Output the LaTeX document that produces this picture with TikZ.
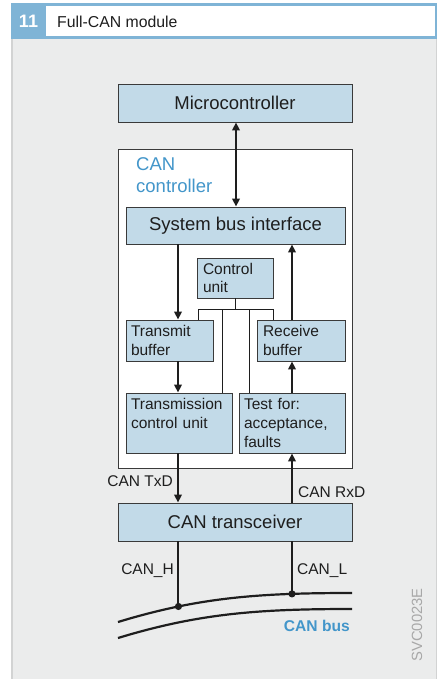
\documentclass[tikz,border=0pt]{standalone}
\usepackage{fontspec}
\setmainfont{Liberation Sans}
\usetikzlibrary{arrows.meta}
\definecolor{panel}{HTML}{EBECEC}
\definecolor{panelline}{HTML}{D2D3D3}
\definecolor{hdrblue}{HTML}{7FB4D6}
\definecolor{boxfill}{HTML}{C2DAE8}
\definecolor{boxline}{HTML}{3A3A3A}
\definecolor{txtblue}{HTML}{4396CA}
\definecolor{ink}{HTML}{1E1E1E}
\definecolor{codegrey}{HTML}{A8A8A8}
\tikzset{
  bigfont/.style={font=\fontsize{18.5}{22}\selectfont},
  medfont/.style={font=\fontsize{15.5}{18.7}\selectfont},
  blk/.style={draw=boxline, fill=boxfill, line width=0.9pt, inner sep=0pt, text=ink},
  flow/.style={draw=ink, line width=1.9pt, -{Triangle[length=8pt,width=7.5pt]}},
  biflow/.style={draw=ink, line width=1.9pt, {Triangle[length=8pt,width=7.5pt]}-{Triangle[length=8pt,width=7.5pt]}},
  wire/.style={draw=ink, line width=1.9pt},
  thinwire/.style={draw=ink, line width=0.9pt},
  buswire/.style={draw=ink, line width=2.2pt},
  lbl/.style={medfont, text=ink, inner sep=0pt}
}
\begin{document}
\begin{tikzpicture}[x=1pt,y=-1pt]
\useasboundingbox (0,0) rectangle (437,679);
% panel and header
\fill[panel] (11,39) rectangle (437,679);
\draw[panelline, line width=1.6pt] (11.8,39) -- (11.8,679);
\draw[panelline, line width=1.2pt] (436.3,39) -- (436.3,679);
\fill[hdrblue] (11,3) rectangle (437,39);
\fill[white] (46,5.6) rectangle (434.6,36.4);
\node[font=\fontsize{18}{20}\selectfont\bfseries, text=white, inner sep=0pt] (num) at (28.5,21.5) {11};
\node[font=\fontsize{15.8}{18}\selectfont, text=ink, anchor=west, inner sep=0pt] (title) at (57,21.5) {Full-CAN module};

% blocks
\node[blk, bigfont, minimum width=234pt, minimum height=38pt] (micro) at (235,103) {Microcontroller};
\node[draw=boxline, fill=white, line width=0.9pt, minimum width=234pt, minimum height=319pt, inner sep=0pt] (canctl) at (235,308.5) {};
\node[bigfont, text=txtblue, align=left, anchor=west, inner sep=0pt] (canlbl) at (136,175) {CAN\\controller};
\node[blk, bigfont, minimum width=219pt, minimum height=37pt] (sbi) at (235.5,225.5) {System bus interface};
\node[blk, medfont, minimum width=76pt, minimum height=40pt, text width=64pt, align=left] (ctrl) at (235,278) {Control\\unit};
\node[blk, medfont, minimum width=87pt, minimum height=41pt, text width=77pt, align=left] (txb) at (169.5,340.5) {Transmit\\buffer};
\node[blk, medfont, minimum width=88pt, minimum height=41pt, text width=76pt, align=left] (rxb) at (301,340.5) {Receive\\buffer};
\node[blk, medfont, minimum width=106pt, minimum height=60pt, text width=96pt, align=left] (tcu) at (179,423) {Transmission\\control unit\\\mbox{}};
\node[blk, medfont, minimum width=106pt, minimum height=60pt, text width=96pt, align=left] (test) at (292,423) {\raisebox{-2pt}{Test for:}\\\raisebox{-2pt}{acceptance,}\\\raisebox{-2pt}{faults}};
\node[blk, bigfont, minimum width=234pt, minimum height=38pt] (xcvr) at (235,522) {CAN transceiver};

% columns
\coordinate (c1) at (178,0);
\coordinate (c2) at (292,0);
\coordinate (b1) at (198,0);
\coordinate (b2) at (222,0);
\coordinate (b3) at (249,0);
\coordinate (b4) at (273,0);
\coordinate (bar) at (235,309);

% arrows
\draw[biflow] (micro.south -| 236,0) -- (sbi.north -| 236,0);
\draw[flow] (sbi.south -| c1) -- (txb.north -| c1);
\draw[flow] (txb.south -| c1) -- (tcu.north -| c1);
\draw[flow] (tcu.south -| c1) -- (xcvr.north -| c1);
\draw[flow] (xcvr.north -| c2) -- (test.south -| c2);
\draw[flow] (test.north -| c2) -- (rxb.south -| c2);
\draw[flow] (rxb.north -| c2) -- (sbi.south -| c2);

% control unit lines
\draw[thinwire] (ctrl.south) -- (bar);
\draw[thinwire] (txb.north -| b1) -- (b1 |- bar) -- (b4 |- bar) -- (rxb.north -| b4);
\draw[thinwire] (tcu.north -| b2) -- (b2 |- bar);
\draw[thinwire] (test.north -| b3) -- (b3 |- bar);

% labels
\node[lbl, anchor=east] (txd) at (173,481) {CAN TxD};
\node[lbl, anchor=west] (rxd) at (298,492) {CAN RxD};
\node[lbl, anchor=east] (canh) at (174,571) {CAN\_H};
\node[lbl, anchor=west] (canl) at (297,571) {CAN\_L};

% bus
\draw[buswire] (118,622) .. controls (200,597) and (260,593) .. (352,593)
  coordinate[pos=0.26] (hdot) coordinate[pos=0.766] (ldot);
\draw[buswire] (118,638) .. controls (200,613) and (260,609) .. (352,609);
\draw[wire] (xcvr.south -| hdot) -- (hdot);
\draw[wire] (xcvr.south -| ldot) -- (ldot);
\fill[ink] (hdot) circle (3.6pt);
\fill[ink] (ldot) circle (3.6pt);
\node[font=\fontsize{15.6}{18}\selectfont\bfseries, text=txtblue, anchor=east, inner sep=0pt] (busl) at (350,626) {CAN bus};
\node[font=\fontsize{14.8}{17}\selectfont, text=codegrey, rotate=90, inner sep=0pt] (code) at (417,625) {SVC0023E};
\end{tikzpicture}
\end{document}
